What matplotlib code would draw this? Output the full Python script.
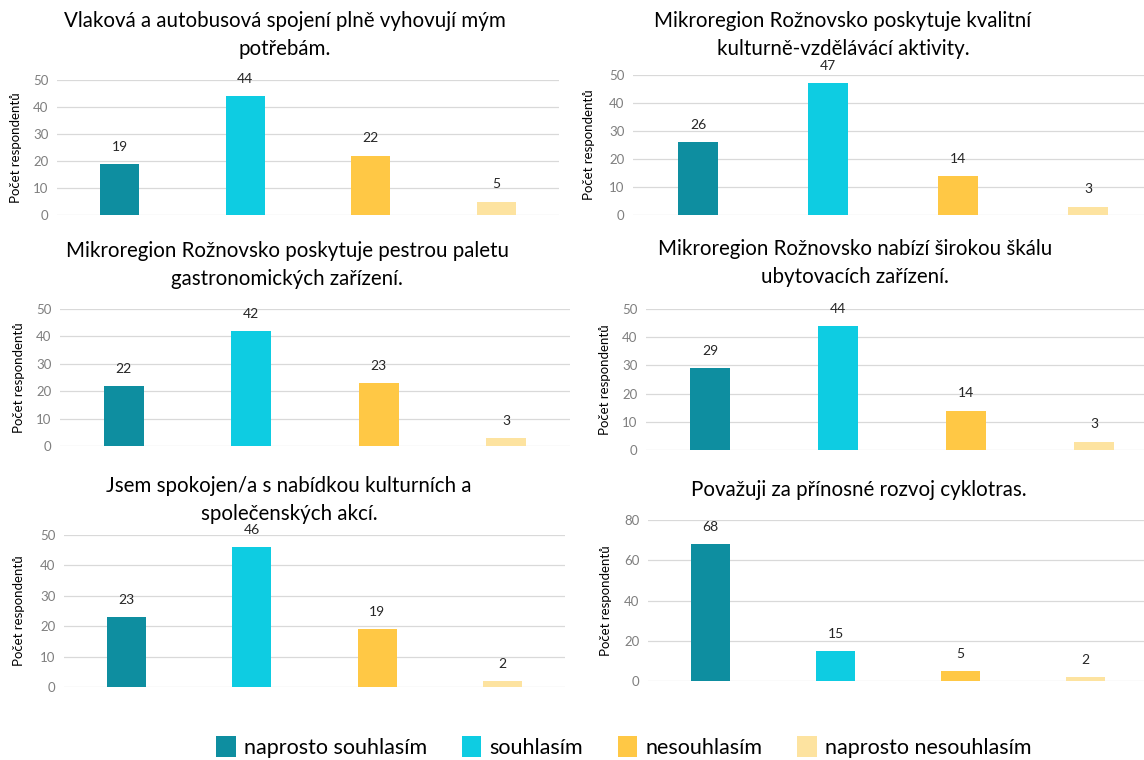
import matplotlib
matplotlib.use("Agg")
import matplotlib.pyplot as plt
from matplotlib.patches import Patch

plt.rcParams['font.family'] = ['Lato', 'DejaVu Sans']

# answer categories and colours
categories = ["naprosto souhlasím", "souhlasím", "nesouhlasím", "naprosto nesouhlasím"]
colors = ["#0E8EA0", "#0ECCE2", "#FFC845", "#FDE3A0"]

titles = [
    "Vlaková a autobusová spojení plně vyhovují mým\npotřebám.",
    "Mikroregion Rožnovsko poskytuje kvalitní\nkulturně-vzdělávácí aktivity.",
    "Mikroregion Rožnovsko poskytuje pestrou paletu\ngastronomických zařízení.",
    "Mikroregion Rožnovsko nabízí širokou škálu\nubytovacích zařízení.",
    "Jsem spokojen/a s nabídkou kulturních a\nspolečenských akcí.",
    "Považuji za přínosné rozvoj cyklotras.",
]

doprava = [19, 44, 22, 5]
kultura_vzdelani = [26, 47, 14, 3]
gastronomie = [22, 42, 23, 3]
ubytovani = [29, 44, 14, 3]
akce = [23, 46, 19, 2]
cyklotrasy = [68, 15, 5, 2]
values = [doprava, kultura_vzdelani, gastronomie, ubytovani, akce, cyklotrasy]

y_max = [50, 50, 50, 50, 50, 80]
y_step = [10, 10, 10, 10, 10, 20]

W, H = 1144, 760
# pixel boxes: left, right, top (at y_max), bottom (at 0), title centre x, title centre y, ylabel x
boxes = [
    (57, 559, 80, 215, 285, 35, 16),
    (633, 1153, 75, 215, 843, 35, 589),
    (60, 570, 309, 446, 287, 265, 19),
    (646, 1158, 309, 450, 855, 263, 605),
    (64, 565, 535, 687, 289, 500, 19),
    (648, 1148, 520, 681, 859, 490, 606),
]

fig = plt.figure(figsize=(W / 100, H / 100), dpi=100)

for i, (l, r, t, b, tx, ty, lx) in enumerate(boxes):
    ax = fig.add_axes([l / W, 1 - b / H, (r - l) / W, (b - t) / H])
    x = range(len(categories))
    bars = ax.bar(x, values[i], width=0.31, color=colors, zorder=3)
    for rect, v in zip(bars, values[i]):
        ax.annotate(str(v), (rect.get_x() + rect.get_width() / 2, v),
                    xytext=(0, 8), textcoords="offset points",
                    ha="center", va="bottom", fontsize=10, color="#262626")
    ax.set_xlim(-0.5, 3.5)
    ax.set_ylim(0, y_max[i])
    ax.set_yticks(range(0, y_max[i] + 1, y_step[i]))
    ax.set_xticks([])
    ax.tick_params(axis="y", length=0, labelsize=9.5, labelcolor="#7F7F7F", pad=6)
    ax.grid(axis="y", color="#D9D9D9", lw=0.9, zorder=0)
    for s in ax.spines.values():
        s.set_visible(False)
    fig.text(tx / W, 1 - ty / H, titles[i], ha="center", va="center",
             fontsize=14.8, color="#000000", linespacing=1.5)
    fig.text(lx / W, 1 - (t + b) / 2 / H, "Počet respondentů", rotation=90,
             ha="center", va="center", fontsize=9.5, color="#000000")

handles = [Patch(facecolor=c, edgecolor="none") for c in colors]
fig.legend(handles, categories, loc="center", bbox_to_anchor=(624 / W, 1 - 747 / H),
           ncol=4, frameon=False, fontsize=15.5, handlelength=0.9, handleheight=1.1,
           handletextpad=0.4, columnspacing=1.6)

fig.savefig("out.png", dpi=100, facecolor="white")
